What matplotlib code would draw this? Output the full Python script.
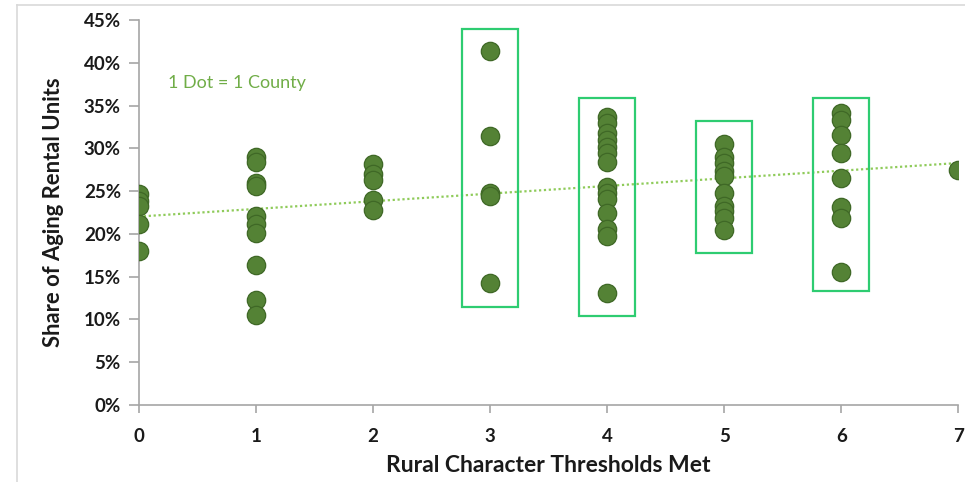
import numpy as np
import matplotlib
matplotlib.use("Agg")
from matplotlib import pyplot as plt
from matplotlib.patches import Rectangle
from matplotlib.lines import Line2D
from matplotlib.ticker import PercentFormatter

plt.rcParams['font.family'] = ['Lato', 'DejaVu Sans']

# share of aging rental units (%) by number of rural thresholds met
share_0 = [24.6, 23.8, 23.2, 21.1, 18.0]
share_1 = [29.0, 28.4, 26.0, 25.6, 22.1, 21.1, 20.1, 16.4, 12.3, 10.5]
share_2 = [28.2, 27.0, 26.3, 23.9, 22.8]
share_3 = [41.4, 31.4, 24.8, 24.4, 14.2]
share_4 = [33.7, 32.9, 31.8, 31.0, 30.2, 29.5, 28.4, 25.5, 24.8, 24.1, 22.4, 20.6, 19.8, 13.1]
share_5 = [30.5, 29.0, 28.3, 27.4, 26.8, 24.8, 23.3, 22.7, 21.9, 20.4]
share_6 = [34.1, 33.3, 31.6, 29.4, 26.5, 23.1, 21.9, 15.5]
share_7 = [27.5]
groups = [share_0, share_1, share_2, share_3, share_4, share_5, share_6, share_7]

# highlighted groups: (threshold count, box top %, box bottom %)
boxed = [(3, 44.0, 11.4), (4, 35.9, 10.4), (5, 33.2, 17.7), (6, 35.9, 13.3)]

dot_color = '#548235'
box_color = '#2ECC71'
trend_color = '#8FCB5A'
axis_color = '#A6A6A6'
text_color = '#1A1A1A'

xs = np.concatenate([[i] * len(g) for i, g in enumerate(groups)])
ys = np.concatenate(groups)

fig = plt.figure(figsize=(9.65, 4.82), dpi=100)
ax = fig.add_axes([0.144, 0.16, 0.849, 0.7985])

# trend line
slope, icpt = np.polyfit(xs, ys, 1)
tx = np.array([0, 7])
ax.plot(tx, icpt + slope * tx, linestyle=(0, (1, 1.2)), color=trend_color, lw=1.6, zorder=2)

ax.scatter(xs, ys, s=175, color=dot_color, edgecolor='#3F6826', linewidth=0.9, zorder=3)

for cx, top, bot in boxed:
    ax.add_patch(Rectangle((cx - 0.24, bot), 0.48, top - bot, fill=False,
                           edgecolor=box_color, lw=1.6, zorder=4))

ax.text(0.25, 37.6, '1 Dot = 1 County', color='#70AD47', fontsize=13, va='center')

ax.set_xlim(0, 7)
ax.set_ylim(0, 45)
ax.set_xticks(range(8))
ax.set_yticks(range(0, 46, 5))
ax.yaxis.set_major_formatter(PercentFormatter(decimals=0))
for s in ['top', 'right']:
    ax.spines[s].set_visible(False)
for s in ['left', 'bottom']:
    ax.spines[s].set_color(axis_color)
    ax.spines[s].set_linewidth(1.2)
ax.tick_params(axis='y', length=7, width=1.2, color=axis_color, pad=6)
ax.tick_params(axis='x', length=6, width=1.2, color=axis_color, pad=11)
for lab in ax.get_xticklabels() + ax.get_yticklabels():
    lab.set_fontweight('bold')
    lab.set_fontsize(13.5)
    lab.set_color(text_color)

ax.set_xlabel('Rural Character Thresholds Met', fontsize=16.5, fontweight='bold',
              color=text_color, labelpad=7)
ax.set_ylabel('Share of Aging Rental Units', fontsize=15.8, fontweight='bold',
              color=text_color, labelpad=14)

# outer chart border (top and left edges visible)
fig.add_artist(Line2D([0.018, 1.0], [0.989, 0.989], color='#D9D9D9', lw=1.2))
fig.add_artist(Line2D([0.018, 0.018], [0.0, 0.989], color='#D9D9D9', lw=1.2))

fig.savefig('out.png', dpi=100, facecolor='white')
